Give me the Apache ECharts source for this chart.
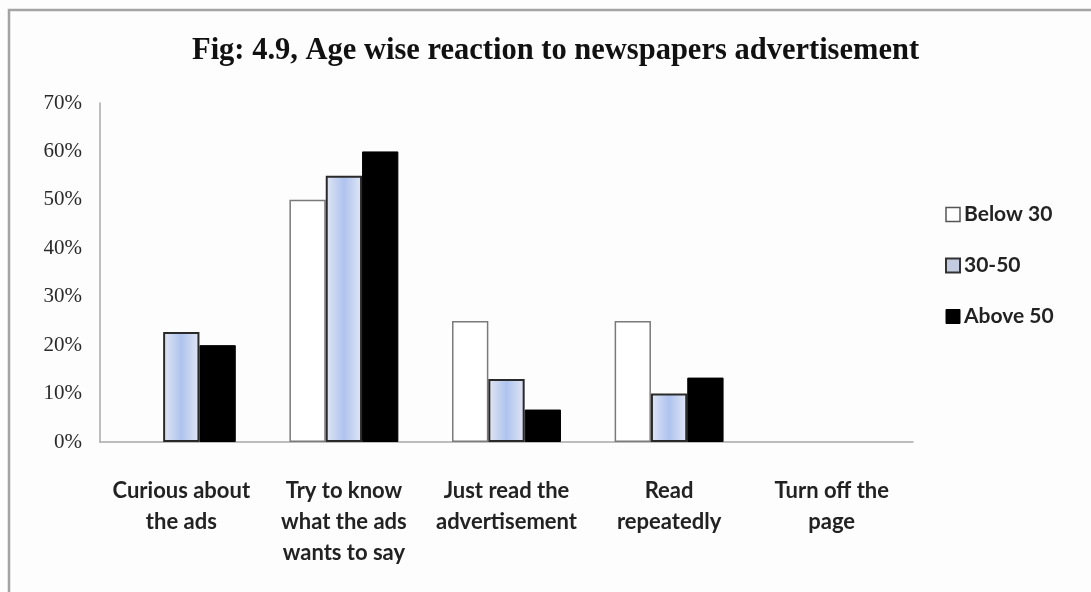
<!DOCTYPE html>
<html>
<head>
<meta charset="utf-8">
<script src="https://cdn.jsdelivr.net/npm/echarts@6/dist/echarts.min.js"></script>
<style>
  html, body { margin: 0; padding: 0; background: #fdfdfd; }
  #chart { width: 1091px; height: 592px; }
</style>
</head>
<body>
<div id="chart"></div>
<script>
// Reactions to newspaper advertisements, split by age group (share of respondents)
const categories = [
  'Curious about\nthe ads',
  'Try to know\nwhat the ads\nwants to say',
  'Just read the\nadvertisement',
  'Read\nrepeatedly',
  'Turn off the\npage'
];
const seriesNames = ['Below 30', '30-50', 'Above 50'];
const below30 = [0, 0.50, 0.25, 0.25, 0];
const age30to50 = [0.227, 0.55, 0.13, 0.10, 0];
const above50 = [0.20, 0.60, 0.067, 0.133, 0];
const yTicks = [0, 0.1, 0.2, 0.3, 0.4, 0.5, 0.6, 0.7];

const chart = echarts.init(document.getElementById('chart'), null, { renderer: 'canvas' });

const blueFill = new echarts.graphic.LinearGradient(0, 0, 1, 0, [
  { offset: 0, color: '#e2e7f4' },
  { offset: 0.5, color: '#aec3ee' },
  { offset: 1, color: '#e2e7f4' }
]);

const styles = [
  { color: '#ffffff', borderColor: '#7a7a7a', borderWidth: 1.5 },
  { color: blueFill, borderColor: '#2a2a2a', borderWidth: 2 },
  { color: '#000000', borderColor: '#000000', borderWidth: 1 }
];
const legendIcons = [
  { color: '#ffffff', borderColor: '#555', borderWidth: 1.5 },
  { color: '#c3cbe0', borderColor: '#333', borderWidth: 2 },
  { color: '#000000', borderColor: '#000', borderWidth: 1 }
];
const values = [below30, age30to50, above50];

// zero-height bars carry no outline
const toBarData = arr => arr.map(v => v === 0
  ? { value: v, itemStyle: { borderWidth: 0, opacity: 0 } }
  : v);

chart.setOption({
  backgroundColor: '#fdfdfd',
  animation: false,
  title: {
    text: 'Fig: 4.9, Age wise reaction to newspapers advertisement',
    left: 187,
    top: 31,
    textStyle: {
      fontFamily: '"Liberation Serif", "DejaVu Serif", serif',
      fontWeight: 'bold',
      fontSize: 30.5,
      color: '#111'
    }
  },
  legend: {
    orient: 'vertical',
    left: 940,
    top: 199,
    itemGap: 30,
    itemWidth: 14,
    itemHeight: 14,
    icon: 'rect',
    textStyle: {
      fontFamily: 'Lato, "Open Sans", sans-serif',
      fontWeight: 'bold',
      fontSize: 21,
      color: '#222',
      padding: [0, 0, 0, -1]
    },
    data: seriesNames.map((n, i) => ({ name: n, itemStyle: legendIcons[i] }))
  },
  grid: { left: 100, right: 178, top: 103, bottom: 150, containLabel: false },
  xAxis: {
    type: 'category',
    data: categories,
    axisLine: { show: true, lineStyle: { color: '#a8a8a8', width: 1.5 } },
    axisTick: { show: false },
    axisLabel: {
      interval: 0,
      margin: 33,
      lineHeight: 31,
      fontFamily: 'Lato, "Open Sans", sans-serif',
      fontWeight: 'bold',
      fontSize: 22,
      color: '#222'
    }
  },
  yAxis: {
    type: 'value',
    min: 0,
    max: 0.7,
    interval: 0.1,
    axisLine: { show: true, lineStyle: { color: '#a8a8a8', width: 1.5 } },
    axisTick: { show: false },
    splitLine: { show: false },
    axisLabel: {
      margin: 18,
      fontFamily: '"Liberation Serif", "DejaVu Serif", serif',
      fontSize: 21,
      color: '#2a2a2a',
      formatter: v => {
        const t = yTicks.find(x => Math.abs(x - v) < 1e-6);
        return Math.round((t !== undefined ? t : v) * 100) + '%';
      }
    }
  },
  series: seriesNames.map((name, i) => ({
    name,
    type: 'bar',
    data: toBarData(values[i]),
    barGap: '0%',
    barCategoryGap: '33%',
    itemStyle: styles[i]
  })),
  graphic: [{
    type: 'rect',
    shape: { x: 9, y: 10, width: 1100, height: 600 },
    style: { fill: 'none', stroke: '#a4a4a4', lineWidth: 2.5 },
    silent: true,
    z: 100
  }]
});
</script>
</body>
</html>
